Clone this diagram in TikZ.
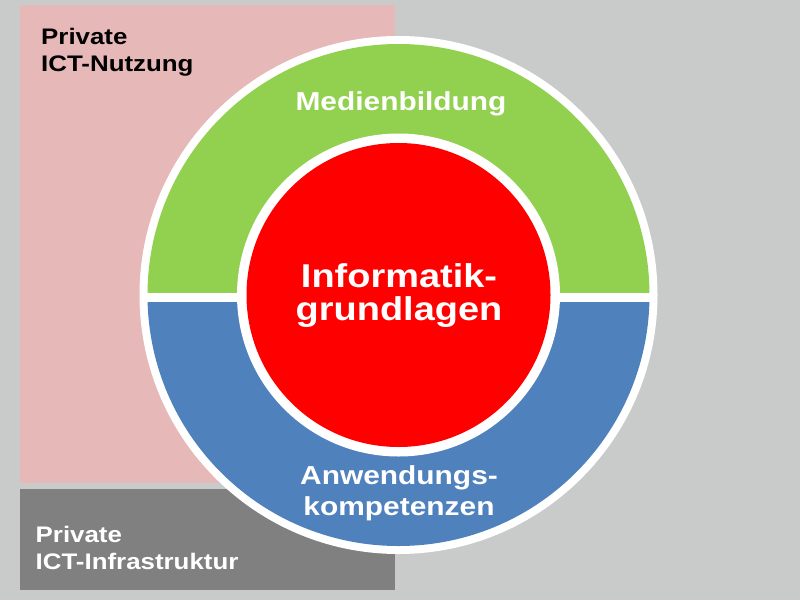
\documentclass[tikz,border=0pt]{standalone}
\usepackage{fontspec}
\newfontfamily\lblfont[FakeStretch=1.15]{Liberation Sans}
\definecolor{bgGray}{RGB}{201,202,202}
\definecolor{nutzPink}{RGB}{230,184,183}
\definecolor{infraGray}{RGB}{128,128,128}
\definecolor{medGreen}{RGB}{146,208,80}
\definecolor{anwBlue}{RGB}{79,129,189}
\tikzset{
  cornertext/.style={inner sep=0pt,align=left,font=\lblfont\bfseries\fontsize{22.5}{27}\selectfont},
  ringtext/.style={inner sep=0pt,align=center,text=white,font=\lblfont\bfseries\fontsize{26}{31}\selectfont},
  coretext/.style={inner sep=0pt,align=center,text=white,font=\lblfont\bfseries\fontsize{33}{33}\selectfont}
}

\begin{document}
\begin{tikzpicture}[x=1pt,y=-1pt]
			% background
			\fill[bgGray] (0,0) rectangle (800,600);
			\useasboundingbox (0,0) rectangle (800,600);
			% private boxes
			\fill[nutzPink] (20,5) rectangle (395,483);
			\fill[infraGray] (20,489) rectangle (395,590);
			\node[cornertext,anchor=base west] (nutzung) at (41,71) {Private\\ICT-Nutzung};
			\node[cornertext,anchor=base west,text=white] (infra) at (35.5,569) {Private\\ICT-Infrastruktur};
			% ring
			\coordinate (mid) at (398.5,295);
			\fill[white] (mid) circle (259pt);
			\begin{scope}
			\clip (0,0) rectangle (800,292.5);
			\fill[medGreen] (mid) circle (251pt);
			\end{scope}
			\begin{scope}
			\clip (0,302) rectangle (800,600);
			\fill[anwBlue] (mid) circle (251pt);
			\end{scope}
			% core
			\fill[white] (mid) circle (161.5pt);
			\fill[red] (mid) circle (152pt);
			\node[ringtext,anchor=base] (medien) at (401,110) {Medienbildung};
			\node[coretext,anchor=base] (core) at (399,320) {Informatik-\\grundlagen};
			\node[ringtext,anchor=base] (anw) at (399,515) {Anwendungs-\\kompetenzen};
\end{tikzpicture}
\end{document}
